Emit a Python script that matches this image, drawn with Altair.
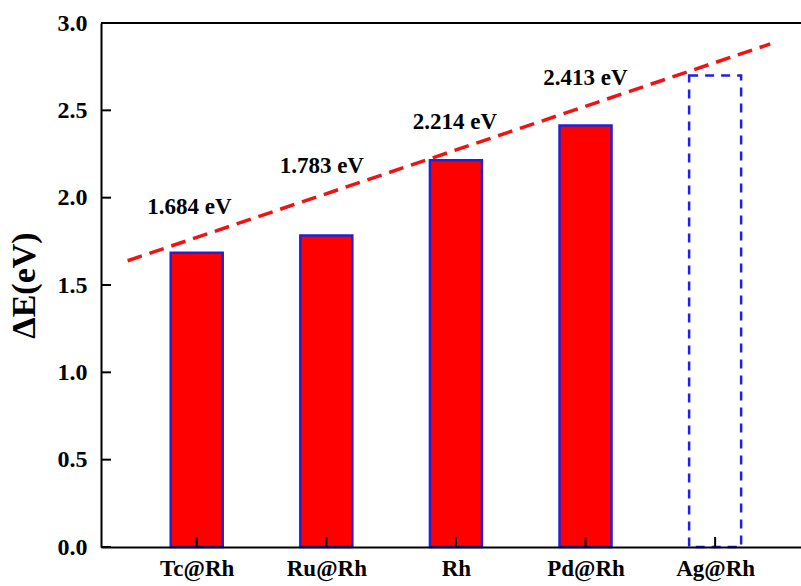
import altair as alt
import pandas as pd

# Adsorption energy differences for the Rh-based catalysts
categories = ["Tc@Rh", "Ru@Rh", "Rh", "Pd@Rh", "Ag@Rh"]
positions = [1, 2, 3, 4, 5]
delta_e = [1.684, 1.783, 2.214, 2.413]
ag_delta_e = 2.70          # extrapolated value, drawn as an open dashed bar
label_x = [0.943, 1.965, 2.992, 3.999]
label_heights = [1.947, 2.181, 2.433, 2.685]
trend_x = [0.467, 5.425]
trend_y = [1.639, 2.880]
y_ticks = [0.0, 0.5, 1.0, 1.5, 2.0, 2.5, 3.0]

W, H = 700, 524
FONT = "Liberation Serif"
BLUE = "#2121d8"
RED = "#ee1414"

bars_df = pd.DataFrame({"pos": positions[:4], "cat": categories[:4], "dE": delta_e})
labels_df = pd.DataFrame({
    "pos": label_x,
    "label_y": label_heights,
    "text": [f"{v:.3f} eV" for v in delta_e],
})
ag_df = pd.DataFrame({"pos": [positions[4]], "dE": [ag_delta_e]})
trend_df = pd.DataFrame({"pos": trend_x, "dE": trend_y})
cats_df = pd.DataFrame({"pos": positions, "cat": categories})
yt_df = pd.DataFrame({"dE": y_ticks})
top_df = pd.DataFrame({"dE": [y_ticks[-1]]})

x_scale = alt.Scale(domain=[0.3, 5.624], nice=False, zero=False)
y_scale = alt.Scale(domain=[0, 3], nice=False)

cat_array = "[" + ",".join(f"'{c}'" for c in categories) + "]"

x_axis = alt.Axis(
    values=positions,
    labelExpr=f"{cat_array}[datum.value - 1]",
    ticks=False, tickSize=0, grid=False,
    domainColor="black", domainWidth=2,
    labelFont=FONT, labelFontSize=23, labelFontWeight="bold", labelColor="black",
    labelPadding=10, labelFlush=False, labelOverlap=False,
    title=None, zindex=1,
)
y_axis = alt.Axis(
    values=y_ticks, format=".1f",
    ticks=False, tickSize=0, grid=False,
    domainColor="black", domainWidth=2,
    labelFont=FONT, labelFontSize=24, labelFontWeight="bold", labelColor="black",
    labelPadding=14, labelFlush=False, labelOverlap=False,
    title="ΔE(eV)", titleFont=FONT, titleFontSize=34, titleFontWeight="bold",
    titleColor="black", titleX=-77, titleY=H / 2, titleAlign="center",
    titleBaseline="middle", titleAngle=270,
    zindex=1,
)

X = alt.X("pos:Q", scale=x_scale, axis=x_axis)
Y = alt.Y("dE:Q", scale=y_scale, axis=y_axis)

bars = alt.Chart(bars_df).mark_bar(
    color="#ff0000", stroke=BLUE, strokeWidth=2.5, size=52
).encode(x=X, y=Y)

ag_bar = alt.Chart(ag_df).mark_bar(
    fill="white", fillOpacity=0, stroke=BLUE, strokeWidth=2.5,
    strokeDash=[9, 7], size=52
).encode(x=X, y=Y)

trend = alt.Chart(trend_df).mark_line(
    color=RED, strokeWidth=3.5, strokeDash=[15, 8]
).encode(x=X, y=Y)

labels = alt.Chart(labels_df).mark_text(
    font=FONT, fontSize=23, fontWeight="bold", color="black"
).encode(
    x=X,
    y=alt.Y("label_y:Q", scale=y_scale, axis=y_axis),
    text="text:N",
)

# inward-pointing tick marks
y_tick_marks = alt.Chart(yt_df).mark_rule(color="black", strokeWidth=2).encode(
    y=Y, x=alt.value(0), x2=alt.value(10),
)
x_tick_marks = alt.Chart(cats_df).mark_rule(color="black", strokeWidth=2).encode(
    x=X, y=alt.value(H), y2=alt.value(H - 10),
)
top_frame = alt.Chart(top_df).mark_rule(color="black", strokeWidth=2).encode(
    y=Y, x=alt.value(0), x2=alt.value(W),
)

chart = alt.layer(
    bars, ag_bar, trend, labels, y_tick_marks, x_tick_marks, top_frame
).properties(
    width=W, height=H,
    autosize=alt.AutoSizeParams(type="none"),
    padding={"left": 101, "top": 23, "right": 0, "bottom": 39},
    background="white",
).configure_view(stroke=None)

chart.save("out.html", embed_options={"renderer": "svg", "actions": False})
